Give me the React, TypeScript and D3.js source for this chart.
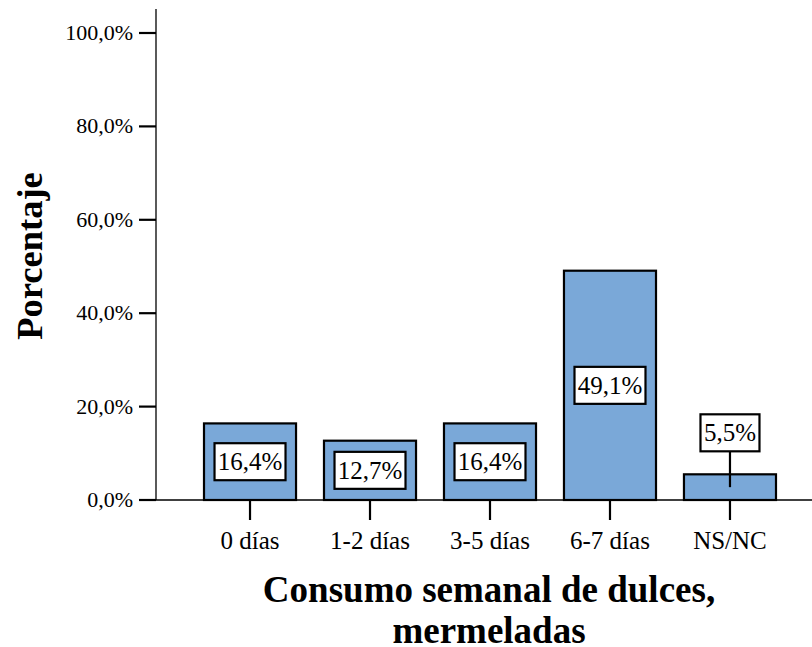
import React from "react";
import * as d3 from "d3";

const categories = ["0 días", "1-2 días", "3-5 días", "6-7 días", "NS/NC"];
const values = [16.4, 12.7, 16.4, 49.1, 5.5];
const valueLabels = ["16,4%", "12,7%", "16,4%", "49,1%", "5,5%"];
const yTicks = [0, 20, 40, 60, 80, 100];
const yTickLabels = ["0,0%", "20,0%", "40,0%", "60,0%", "80,0%", "100,0%"];
const xTitle = ["Consumo semanal de dulces,", "mermeladas"];
const yTitle = "Porcentaje";

const FONT = "Liberation Serif";

export default function App() {
  const W = 812, H = 647;
  const y = d3.scaleLinear().domain([0, 100]).range([500, 33]);
  const x = d3.scaleBand<string>().domain(categories).range([190, 790]).paddingInner(0.233).paddingOuter(0.1167);
  const bw = x.bandwidth();
  const boxH = 37;
  const boxWidths = valueLabels.map((s) => (s.length === 5 ? 71 : 59));
  const ts = { fontFamily: FONT };

  return (
    <svg width={W} height={H} style={{ position: "absolute", left: 0, top: 0, background: "#fff" }}>
      <rect x={0} y={0} width={W} height={H} fill="#fff" />
      <line x1={156} x2={156} y1={9} y2={500} stroke="#000" strokeWidth={1.3} />
      <line x1={156} x2={812} y1={500} y2={500} stroke="#000" strokeWidth={1.3} />
      {yTicks.map((t, i) => (
        <g key={t}>
          <line x1={139} x2={156} y1={y(t)} y2={y(t)} stroke="#000" strokeWidth={2.2} />
          <text style={ts} x={133} y={y(t) + 7} textAnchor="end" fontSize={22}>{yTickLabels[i]}</text>
        </g>
      ))}
      {categories.map((c, i) => (
        <rect key={c} x={x(c)!} y={y(values[i])} width={bw} height={y(0) - y(values[i])}
          fill="#7aa8d8" stroke="#000" strokeWidth={2.2} />
      ))}
      {categories.map((c) => (
        <g key={c + "t"}>
          <line x1={x(c)! + bw / 2} x2={x(c)! + bw / 2} y1={500} y2={520} stroke="#000" strokeWidth={2.2} />
          <text style={ts} x={x(c)! + bw / 2} y={549} textAnchor="middle" fontSize={25}>{c}</text>
        </g>
      ))}
      {categories.map((c, i) => {
        const cx = x(c)! + bw / 2;
        const mid = (y(values[i]) + y(0)) / 2;
        const inside = y(0) - y(values[i]) > boxH + 6;
        const cy = inside ? mid : y(values[i]) - 23 - boxH / 2;
        const bwid = boxWidths[i];
        return (
          <g key={c + "v"}>
            {!inside && <line x1={cx} x2={cx} y1={cy + boxH / 2} y2={mid} stroke="#000" strokeWidth={2.2} />}
            <rect x={cx - bwid / 2} y={cy - boxH / 2} width={bwid} height={boxH} fill="#fff" stroke="#000" strokeWidth={2.2} />
            <text style={ts} x={cx} y={cy + 8.5} textAnchor="middle" fontSize={25}>{valueLabels[i]}</text>
          </g>
        );
      })}
      <text style={ts} x={489} y={602} textAnchor="middle" fontSize={37} fontWeight="bold">{xTitle[0]}</text>
      <text style={ts} x={489} y={643} textAnchor="middle" fontSize={37} fontWeight="bold">{xTitle[1]}</text>
      <text style={ts} transform="translate(42,256) rotate(-90)" textAnchor="middle" fontSize={36.5} fontWeight="bold">{yTitle}</text>
    </svg>
  );
}
